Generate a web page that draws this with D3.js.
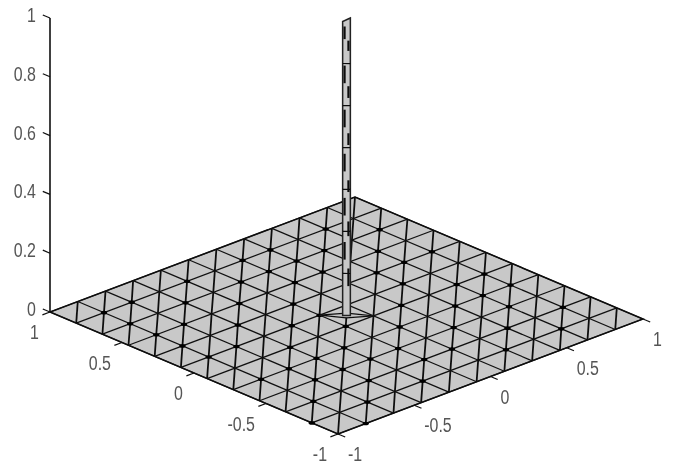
<!DOCTYPE html>
<html>
<head>
<meta charset="utf-8">
<script src="https://cdn.jsdelivr.net/npm/d3@7/dist/d3.min.js"></script>
<style>
html, body { margin: 0; padding: 0; background: #fff; }
</style>
</head>
<body>
<div id="chart"></div>
<script>
// mesh node positions along x and y (11 cells per side)
var meshNodes = [-1, -0.818, -0.636, -0.455, -0.273, -0.091, 0.091, 0.273, 0.455, 0.636, 0.818, 1];
var xTicks = [-1, -0.5, 0, 0.5, 1];
var yTicks = [-1, -0.5, 0, 0.5, 1];
var zTicks = [0, 0.2, 0.4, 0.6, 0.8, 1];
var peakZ = 1;
// dark dashes seen inside the spike: [z start, z end, side]
var spikeDashes = [
  [0.983, 0.94, -1], [0.935, 0.90, 1], [0.85, 0.79, -1], [0.78, 0.74, 1],
  [0.70, 0.64, -1], [0.62, 0.58, 1], [0.55, 0.49, -1], [0.46, 0.42, 1],
  [0.40, 0.34, -1], [0.32, 0.27, 1], [0.25, 0.19, -1], [0.16, 0.10, 1]
];
var spikeRings = [0.857, 0.714, 0.571, 0.429, 0.286, 0.143];
// mesh nodes (x index, y index) where the reference shows a heavy dark knot
var knotNodes = [
  [2,10],[1,9],[1,8],[4,10],[3,9],[2,8],[1,7],[1,6],[6,10],[5,9],[4,8],[3,7],[2,6],
  [1,4],[2,4],[7,10],[6,9],[7,9],[6,8],[5,7],[4,6],[3,5],[2,3],[1,2],[0,1],[9,10],
  [8,9],[5,6],[1,10],[10,9],[9,8],[9,7],[7,8],[8,7],[8,6],[10,7],[9,5],[10,5],[10,4],
  [9,4],[8,4],[9,3],[10,2],[7,3],[8,2],[9,1],[6,2],[7,1],[7,5],[6,4],[5,3],[5,2],
  [4,1],[4,3],[3,2],[2,1],[1,0],[4,4],[3,3],[5,5],[3,4]
];

var width = 677, height = 466;

var svg = d3.select("#chart").append("svg")
  .attr("width", width)
  .attr("height", height)
  .style("display", "block");

// slight softening, the reference is a blurred screenshot
svg.append("filter").attr("id", "soft")
  .append("feGaussianBlur").attr("stdDeviation", 0.3);

var g = svg.append("g").attr("filter", "url(#soft)");

// each data axis contributes a screen offset, they get summed up in project()
var xToPx = d3.scaleLinear().domain([-1, 1]).range([0, 305]);
var xToPy = d3.scaleLinear().domain([-1, 1]).range([0, -115]);
var yToPx = d3.scaleLinear().domain([-1, 1]).range([0, -288]);
var yToPy = d3.scaleLinear().domain([-1, 1]).range([0, -122]);
var zToPy = d3.scaleLinear().domain([0, 1]).range([0, -294]);
var originX = 338, originY = 434;

function project(x, y, z) {
  return [
    originX + xToPx(x) + yToPx(y),
    originY + xToPy(x) + yToPy(y) + zToPy(z || 0)
  ];
}

var line = d3.line();

function drawLine(pts, w, col) {
  g.append("path")
    .attr("d", line(pts))
    .attr("fill", "none")
    .attr("stroke", col || "#111")
    .attr("stroke-width", w);
}

function drawLabel(label, px, py, anchor) {
  g.append("text")
    .attr("transform", "translate(" + px + "," + py + ") scale(0.76,1)")
    .attr("text-anchor", anchor)
    .attr("font-family", "'Liberation Sans', sans-serif")
    .attr("font-size", 21)
    .attr("fill", "#555")
    .text(label);
}

// floor
var last = meshNodes.length - 1;
g.append("path")
  .attr("d", line([project(-1, -1), project(1, -1), project(1, 1), project(-1, 1)]) + "Z")
  .attr("fill", "#c8c8c8")
  .attr("stroke", "#111")
  .attr("stroke-width", 1.5);

// mesh lines, one family per triangle edge direction
meshNodes.forEach(function(n) {
  drawLine([project(n, -1), project(n, 1)], 1.25);
  drawLine([project(-1, n), project(1, n)], 1.25);
});
// cell diagonals come out vertical on screen, they look heavier
d3.range(-last + 1, last).forEach(function(k) {
  var pts = [];
  meshNodes.forEach(function(n, i) {
    var j = i + k;
    if (j >= 0 && j <= last) pts.push(project(n, meshNodes[j]));
  });
  drawLine(pts, 1.8);
});

knotNodes.forEach(function(d) {
  var p = project(meshNodes[d[0]], meshNodes[d[1]]);
  g.append("ellipse")
    .attr("cx", p[0]).attr("cy", p[1])
    .attr("rx", 3.2).attr("ry", 1.8)
    .attr("fill", "#000");
});

// z axis
drawLine([project(-1, 1, 0), project(-1, 1, 1)], 1.6);
zTicks.forEach(function(t) {
  drawLine([project(-1, 1, t), project(-1, 1.05, t)], 1.2);
  var p = project(-1, 1, t);
  drawLabel(t, p[0] - 14, p[1] + 4, "end");
});

// y ticks on lower left edge
yTicks.forEach(function(t) {
  drawLine([project(-1, t), project(-1.05, t)], 1.2);
  var p = project(-1, t);
  drawLabel(t, p[0] - 11, p[1] + 27, "end");
});

// x ticks on lower right edge
xTicks.forEach(function(t) {
  drawLine([project(t, -1), project(t, -1.05)], 1.2);
  var p = project(t, -1);
  drawLabel(t, p[0] + 10, p[1] + 27, "start");
});

// spike, sits in the middle cell
var mid = last / 2;
var leftNode = project(meshNodes[Math.floor(mid)], meshNodes[Math.ceil(mid)]);
var rightNode = project(meshNodes[Math.ceil(mid)], meshNodes[Math.floor(mid)]);
var t = 0.02, s = 0.013;

g.append("path")
  .attr("d", line([leftNode, project(t, t), rightNode, project(-t, -t)]) + "Z")
  .attr("fill", "#c8c8c8")
  .attr("stroke", "#111")
  .attr("stroke-width", 1.2);

g.append("path")
  .attr("d", line([project(-s, s, 0), project(-s, s, peakZ), project(s, -s, peakZ + 0.012), project(s, -s, 0)]) + "Z")
  .attr("fill", "#c8c8c8")
  .attr("stroke", "#222")
  .attr("stroke-width", 1.5);

spikeDashes.forEach(function(d) {
  var o = d[2] * s * 0.5;
  drawLine([project(o, -o, d[0]), project(o, -o, d[1])], 2.2);
});
spikeRings.forEach(function(z) {
  drawLine([project(-s, s, z), project(s, -s, z)], 1.2);
});
</script>
</body>
</html>
